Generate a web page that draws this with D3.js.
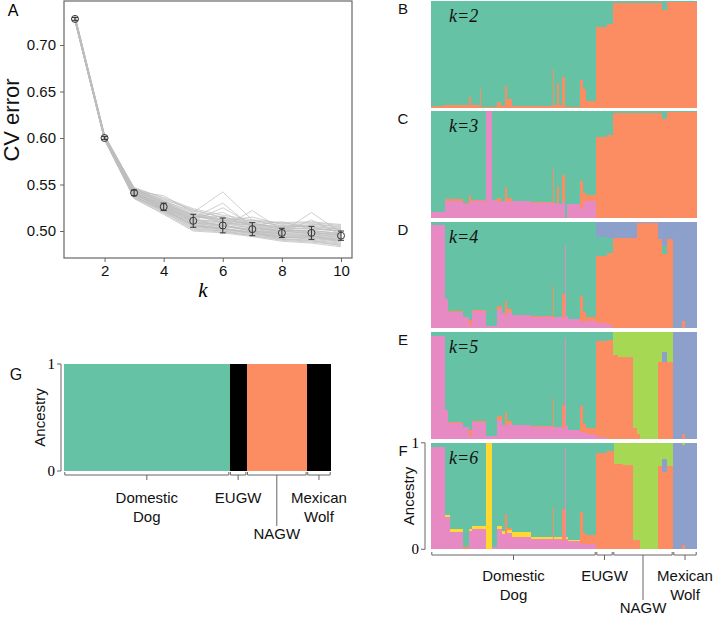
<!DOCTYPE html>
<html><head><meta charset="utf-8">
<script src="https://cdn.jsdelivr.net/npm/d3@7"></script>
<style>body{margin:0;background:#fff} svg{display:block}</style>
</head><body><svg id="c" width="714" height="618"></svg>
<script>
const SANS = "'Liberation Sans', Arial, Helvetica, sans-serif";
const SERIF = "'Liberation Serif', 'Times New Roman', serif";

// ---------- Panel A data ----------
const kValues = [1,2,3,4,5,6,7,8,9,10];
const cvMean = [0.728,0.600,0.541,0.526,0.511,0.506,0.502,0.498,0.498,0.495];
const cvErr  = [0.0015,0.0015,0.003,0.004,0.007,0.008,0.007,0.005,0.007,0.005];
const cvReps = [
 [0.728,0.600,0.541,0.526,0.511,0.506,0.502,0.498,0.498,0.495],
 [0.730,0.602,0.545,0.530,0.516,0.510,0.506,0.502,0.503,0.500],
 [0.726,0.598,0.537,0.522,0.506,0.502,0.498,0.494,0.493,0.490],
 [0.729,0.601,0.547,0.535,0.522,0.515,0.510,0.506,0.508,0.504],
 [0.727,0.599,0.535,0.519,0.501,0.499,0.495,0.490,0.488,0.485],
 [0.731,0.603,0.543,0.538,0.520,0.542,0.512,0.505,0.506,0.503],
 [0.728,0.600,0.540,0.528,0.514,0.530,0.504,0.500,0.497,0.494],
 [0.727,0.599,0.539,0.524,0.509,0.504,0.522,0.501,0.499,0.496],
 [0.729,0.601,0.542,0.527,0.512,0.508,0.503,0.499,0.520,0.498],
 [0.726,0.598,0.536,0.520,0.503,0.500,0.496,0.492,0.490,0.487],
 [0.730,0.602,0.544,0.531,0.518,0.512,0.508,0.504,0.505,0.502],
 [0.728,0.600,0.541,0.525,0.510,0.507,0.500,0.497,0.496,0.493],
 [0.727,0.599,0.538,0.523,0.507,0.503,0.499,0.495,0.494,0.491],
 [0.729,0.601,0.546,0.533,0.519,0.513,0.509,0.503,0.507,0.505],
 [0.728,0.600,0.540,0.529,0.515,0.520,0.505,0.500,0.501,0.497],
 [0.726,0.598,0.535,0.518,0.500,0.498,0.494,0.489,0.487,0.483],
 [0.731,0.603,0.546,0.532,0.521,0.511,0.515,0.507,0.504,0.499],
 [0.727,0.599,0.539,0.526,0.513,0.505,0.501,0.498,0.512,0.496],
 [0.729,0.601,0.543,0.529,0.517,0.509,0.506,0.510,0.502,0.500],
 [0.728,0.600,0.540,0.524,0.508,0.505,0.500,0.496,0.495,0.492],
 [0.730,0.602,0.544,0.534,0.523,0.514,0.511,0.508,0.509,0.506],
 [0.727,0.599,0.537,0.521,0.504,0.501,0.497,0.493,0.492,0.489],
 [0.729,0.601,0.542,0.527,0.511,0.525,0.507,0.502,0.500,0.498],
 [0.726,0.598,0.536,0.522,0.505,0.502,0.498,0.491,0.489,0.486],
 [0.729,0.601,0.540,0.523,0.506,0.503,0.497,0.494,0.491,0.488],
 [0.728,0.600,0.543,0.529,0.513,0.509,0.503,0.500,0.498,0.496],
 [0.727,0.599,0.538,0.521,0.502,0.500,0.495,0.491,0.490,0.484],
 [0.730,0.602,0.545,0.532,0.517,0.511,0.507,0.503,0.502,0.501],
 [0.728,0.600,0.541,0.526,0.510,0.506,0.501,0.497,0.497,0.493],
 [0.729,0.601,0.544,0.530,0.514,0.516,0.505,0.501,0.500,0.497],
 [0.726,0.598,0.537,0.523,0.507,0.503,0.498,0.493,0.494,0.490],
 [0.731,0.603,0.546,0.536,0.524,0.517,0.512,0.509,0.510,0.507],
 [0.727,0.599,0.539,0.525,0.509,0.506,0.500,0.496,0.495,0.491],
 [0.728,0.600,0.542,0.528,0.512,0.510,0.504,0.499,0.499,0.495],
 [0.729,0.601,0.540,0.524,0.505,0.502,0.499,0.494,0.493,0.489],
 [0.730,0.602,0.543,0.531,0.516,0.512,0.507,0.505,0.504,0.502]
];
const xTicksA = [2,4,6,8,10];
const yTicksA = [0.50,0.55,0.60,0.65,0.70];

// ---------- Structure data ----------
const clusterColors = {green:"#66c2a5", orange:"#fc8d62", pink:"#e78ac3", blue:"#8da0cb", lime:"#a6d854", yellow:"#ffd92f", black:"#000000"};
const groupNames = ["Domestic Dog","EUGW","NAGW","Mexican Wolf"];
const groupSizes = [165,17,60,24];
const groupColorsG = ["green","black","orange","black"];
const panelLetters = ["B","C","D","E","F"];
const kLabels = ["k=2","k=3","k=4","k=5","k=6"];

const orderK2 = ["orange","green"];
const runsK2 = [
 [12,0.015,0.985],[20,0.025,0.975],[6,0.02,0.98],[2,0.10,0.90],[9,0.025,0.975],
 [1,0.18,0.82],[16,0.008,0.992],[4,0.05,0.95],[4,0.01,0.99],[2,0.20,0.80],
 [5,0.08,0.92],[41,0.012,0.988],[1,0.36,0.64],[3,0.02,0.98],[2,0.23,0.77],
 [3,0.02,0.98],[3,0.29,0.71],[15,0.008,0.992],[3,0.26,0.74],[3,0.17,0.83],
 [10,0.06,0.94],[11,0.76,0.24],[6,0.78,0.22],[49,0.985,0.015],[5,0.92,0.08],
 [30,0.995,0.005]
];
const orderK3 = ["pink","orange","green"];
const runsK3 = [
 [14,0.06,0,0.94],[18,0.16,0.02,0.82],[6,0.13,0.01,0.86],[2,0.15,0.07,0.78],
 [15,0.16,0.01,0.83],[6,1.0,0,0],[5,0.17,0,0.83],[4,0.15,0.04,0.81],
 [4,0.16,0,0.84],[2,0.15,0.14,0.71],[5,0.16,0.03,0.81],[19,0.16,0,0.84],
 [22,0.14,0.01,0.85],[1,0.13,0.34,0.53],[3,0.14,0,0.86],[2,0.14,0.16,0.70],
 [3,0.13,0,0.87],[3,0.15,0.25,0.60],[2,0,0,1],[13,0.13,0,0.87],
 [3,0.08,0.27,0.65],[3,0.15,0.08,0.77],[10,0.16,0.06,0.78],[11,0,0.76,0.24],
 [6,0,0.78,0.22],[49,0,0.985,0.015],[5,0,0.93,0.07],[30,0,0.995,0.005]
];
const orderK4 = ["pink","orange","green","blue"];
const runsK4 = [
 [14,0.97,0,0.03,0],[3,0.28,0,0.72,0],[15,0.15,0.01,0.84,0],[6,0.11,0,0.89,0],
 [3,0.03,0.05,0.92,0],[14,0.16,0.01,0.83,0],[11,0.02,0,0.98,0],[5,0.18,0.03,0.79,0],
 [3,0.14,0,0.86,0],[2,0.12,0.14,0.74,0],[5,0.15,0.03,0.82,0],[19,0.13,0,0.87,0],
 [22,0.11,0.01,0.88,0],[1,0.10,0.30,0.60,0],[8,0.11,0,0.89,0],[3,0.10,0.22,0.68,0],
 [1,0.78,0,0.22,0],[2,0.12,0,0.88,0],[12,0.09,0,0.91,0],[3,0.06,0.24,0.70,0],
 [3,0.07,0.08,0.85,0],[10,0.07,0.04,0.89,0],[11,0.05,0.63,0.18,0.14],[6,0.03,0.68,0.14,0.15],
 [24,0,0.85,0,0.15],[5,0,0.99,0,0.01],[16,0,0.99,0,0.01],[4,0,0.84,0,0.16],
 [5,0,0.70,0.07,0.23],[6,0,0.84,0,0.16],[9,0,0,0,1],[3,0,0.07,0,0.93],[12,0,0,0,1]
];
const orderK5 = ["pink","orange","blue","lime","green"];
const runsK5 = [
 [14,0.97,0,0,0,0.03],[3,0.27,0,0,0,0.73],[15,0.15,0.01,0,0,0.84],[6,0.11,0,0,0,0.89],
 [3,0.03,0.05,0,0,0.92],[14,0.16,0.01,0,0,0.83],[11,0.03,0,0,0,0.97],[5,0.18,0.03,0,0,0.79],
 [3,0.13,0,0,0,0.87],[2,0.12,0.13,0,0,0.75],[5,0.14,0.03,0,0,0.83],[19,0.13,0,0,0,0.87],
 [22,0.11,0.01,0,0,0.88],[1,0.10,0.28,0,0,0.62],[8,0.11,0,0,0,0.89],[3,0.10,0.22,0,0,0.68],
 [1,0.95,0,0,0,0.05],[2,0.12,0,0,0,0.88],[12,0.08,0,0,0,0.92],[3,0.06,0.25,0,0,0.69],
 [3,0.06,0.08,0,0,0.86],[10,0.05,0.05,0,0,0.90],[11,0.02,0.90,0,0,0.08],[6,0,0.93,0,0,0.07],
 [5,0,0.79,0,0.21,0],[15,0,0.77,0,0.23,0],[4,0,0.10,0,0.90,0],[3,0,0.05,0,0.95,0],
 [18,0,0,0,1,0],[4,0,0.72,0,0.28,0],[5,0,0.72,0.10,0.18,0],[6,0,0.72,0,0.28,0],
 [9,0,0,1,0,0],[3,0,0.05,0.95,0,0],[12,0,0,1,0,0]
];
const orderK6 = ["pink","yellow","orange","blue","lime","green"];
const runsK6 = [
 [14,0.96,0,0,0,0,0.04],[5,0.30,0.02,0,0,0,0.68],[13,0.16,0.03,0,0,0,0.81],[6,0,0,0.02,0,0,0.98],
 [3,0.17,0.02,0,0,0,0.81],[14,0.19,0.03,0,0,0,0.78],[6,0,1,0,0,0,0],[5,0.02,0,0,0,0,0.98],
 [5,0.19,0.03,0,0,0,0.78],[3,0.14,0.03,0,0,0,0.83],[2,0.15,0,0.18,0,0,0.67],[5,0.15,0.03,0.02,0,0,0.80],
 [19,0.12,0.04,0,0,0,0.84],[22,0.10,0.02,0,0,0,0.88],[1,0.10,0,0.30,0,0,0.60],[8,0.10,0.02,0,0,0,0.88],
 [3,0.08,0,0.30,0,0,0.62],[1,0.95,0,0,0,0,0.05],[2,0.10,0.02,0,0,0,0.88],[12,0.08,0.01,0,0,0,0.91],
 [3,0.05,0,0.30,0,0,0.65],[3,0.05,0,0.10,0,0,0.85],[10,0.05,0,0.08,0,0,0.87],[11,0,0,0.90,0,0,0.10],
 [7,0,0,0.92,0,0,0.08],[9,0,0,0.80,0,0.20,0],[10,0,0,0.79,0,0.21,0],[7,0,0,0.09,0,0.91,0],
 [18,0,0,0,0,1,0],[4,0,0,0.78,0,0.22,0],[5,0,0,0.73,0.12,0.15,0],[6,0,0,0.78,0,0.22,0],
 [9,0,0,0,1,0,0],[3,0,0,0.04,0.94,0.02,0],[12,0,0,0,1,0,0]
];
const structPanels = [
 {runs:runsK2, order:orderK2}, {runs:runsK3, order:orderK3}, {runs:runsK4, order:orderK4},
 {runs:runsK5, order:orderK5}, {runs:runsK6, order:orderK6}
];

// ---------- Drawing ----------
const svg = d3.select("#c");
const AX = "#666";

// Panel A
(function(){
  const L=64, R=352, T=1, B=258;
  const x = d3.scaleLinear().domain([0.628,10.372]).range([L,R]);
  const y = d3.scaleLinear().domain([0.471,0.7473]).range([B,T]);
  const g = svg.append("g");
  const line = d3.line().x((d,i)=>x(kValues[i])).y(d=>y(d));
  g.selectAll("path.rep").data(cvReps).join("path").attr("class","rep")
    .attr("d", line).attr("fill","none").attr("stroke","#bdbdbd").attr("stroke-width",0.9).attr("stroke-opacity",0.8);
  const eb = g.selectAll("g.eb").data(kValues).join("g").attr("class","eb");
  eb.append("line").attr("x1",d=>x(d)).attr("x2",d=>x(d))
    .attr("y1",(d,i)=>y(cvMean[i]-cvErr[i])).attr("y2",(d,i)=>y(cvMean[i]+cvErr[i]))
    .attr("stroke","#333").attr("stroke-width",1);
  [-1,1].forEach(s=>{
    eb.append("line").attr("x1",d=>x(d)-3).attr("x2",d=>x(d)+3)
      .attr("y1",(d,i)=>y(cvMean[i]+s*cvErr[i])).attr("y2",(d,i)=>y(cvMean[i]+s*cvErr[i]))
      .attr("stroke","#333").attr("stroke-width",1);
  });
  eb.append("circle").attr("cx",d=>x(d)).attr("cy",(d,i)=>y(cvMean[i])).attr("r",3.5)
    .attr("fill","none").attr("stroke","#333").attr("stroke-width",1);
  g.append("rect").attr("x",L).attr("y",T).attr("width",R-L).attr("height",B-T)
    .attr("fill","none").attr("stroke",AX).attr("stroke-width",1.2);
  const xa = g.append("g").attr("transform",`translate(0,${B})`)
    .call(d3.axisBottom(x).tickValues(xTicksA).tickSize(4).tickPadding(3).tickFormat(d3.format("d")));
  xa.select(".domain").remove();
  xa.selectAll("line").attr("stroke",AX);
  xa.selectAll("text").attr("font-family",SANS).attr("font-size",15).attr("fill","#111");
  const ya = g.append("g").attr("transform",`translate(${L},0)`)
    .call(d3.axisLeft(y).tickValues(yTicksA).tickSize(4).tickPadding(4).tickFormat(d3.format(".2f")));
  ya.select(".domain").remove();
  ya.selectAll("line").attr("stroke",AX);
  ya.selectAll("text").attr("font-family",SANS).attr("font-size",15).attr("fill","#111");
  g.append("text").attr("x",203).attr("y",297).attr("text-anchor","middle")
    .attr("font-family",SERIF).attr("font-style","italic").attr("font-size",21).text("k");
  g.append("text").attr("transform","translate(19,120) rotate(-90)").attr("text-anchor","middle")
    .attr("font-family",SANS).attr("font-size",22).attr("fill","#111").text("CV error");
  g.append("text").attr("x",13).attr("y",16).attr("text-anchor","middle")
    .attr("font-family",SANS).attr("font-size",16).text("A");
})();

function drawRuns(g, runs, order, x, y){
  let start = 0;
  const cells = [];
  runs.forEach(r=>{
    let cum = 0;
    order.forEach((c,j)=>{
      const v = r[j+1];
      if (v>0) cells.push({s:start, n:r[0], lo:cum, hi:cum+v, c});
      cum += v;
    });
    start += r[0];
  });
  g.selectAll("rect.cell").data(cells).join("rect").attr("class","cell")
    .attr("x",d=>x(d.s)).attr("width",d=>x(d.s+d.n)-x(d.s)+0.3)
    .attr("y",d=>y(d.hi)).attr("height",d=>Math.max(0,y(d.lo)-y(d.hi)))
    .attr("fill",d=>clusterColors[d.c]).attr("shape-rendering","crispEdges");
}

function drawGroupAxis(g, x, yb, labelBase, nagwEnd){
  let start = 0;
  groupSizes.forEach((n,i)=>{
    const x0 = x(start)+0.8, x1 = x(start+n)-0.8;
    g.append("path").attr("d",`M${x0},${yb-3}V${yb}H${x1}V${yb-3}`)
      .attr("fill","none").attr("stroke",AX).attr("stroke-width",1);
    const cx = x(start+n/2);
    const isN = groupNames[i]==="NAGW";
    g.append("line").attr("x1",cx).attr("x2",cx).attr("y1",yb).attr("y2",isN?nagwEnd:yb+5)
      .attr("stroke",AX).attr("stroke-width",1);
    const parts = groupNames[i].split(" ");
    parts.forEach((p,j)=>{
      g.append("text").attr("x",cx).attr("y",isN? nagwEnd+13 : labelBase + j*19)
        .attr("text-anchor","middle").attr("font-family",SANS).attr("font-size",15).attr("fill","#111").text(p);
    });
    start += n;
  });
}

function drawAncAxis(g, ax, yTop, yBot, labelX){
  g.append("path").attr("d",`M${ax-4},${yTop}H${ax}V${yBot}H${ax-4}`)
    .attr("fill","none").attr("stroke",AX).attr("stroke-width",1);
  g.append("text").attr("x",ax-6).attr("y",yTop+5).attr("text-anchor","end")
    .attr("font-family",SERIF).attr("font-size",15).text("1");
  g.append("text").attr("x",ax-6).attr("y",yBot+5).attr("text-anchor","end")
    .attr("font-family",SERIF).attr("font-size",15).text("0");
  g.append("text").attr("transform",`translate(${labelX},${(yTop+yBot)/2}) rotate(-90)`)
    .attr("text-anchor","middle").attr("font-family",SANS).attr("font-size",15).attr("fill","#111").text("Ancestry");
}

// Panels B-F
(function(){
  const total = d3.sum(groupSizes);
  const x = d3.scaleLinear().domain([0,total]).range([431,697]);
  const H = 106.5;
  structPanels.forEach((p,i)=>{
    const top = 1 + i*110.45;
    const y = d3.scaleLinear().domain([0,1]).range([top+H, top]);
    const g = svg.append("g");
    drawRuns(g, p.runs, p.order, x, y);
    g.append("text").attr("x",449).attr("y",top+21).attr("font-family",SERIF)
      .attr("font-style","italic").attr("font-size",18).attr("fill","#111").text(kLabels[i]);
    g.append("text").attr("x",403).attr("y",top+13).attr("text-anchor","middle")
      .attr("font-family",SANS).attr("font-size",15).attr("fill","#111").text(panelLetters[i]);
    if (i===4){
      drawAncAxis(g, 425, top, top+H, 414);
      drawGroupAxis(g, x, 555, 581, 600);
    }
  });
})();

// Panel G
(function(){
  const total = d3.sum(groupSizes);
  const x = d3.scaleLinear().domain([0,total]).range([64,331]);
  const y = d3.scaleLinear().domain([0,1]).range([471,364]);
  const g = svg.append("g");
  let start = 0;
  const blocks = groupSizes.map((n,i)=>{ const b={s:start,n,c:groupColorsG[i]}; start+=n; return b; });
  g.selectAll("rect").data(blocks).join("rect")
    .attr("x",d=>x(d.s)).attr("width",d=>x(d.s+d.n)-x(d.s)+0.3)
    .attr("y",y(1)).attr("height",y(0)-y(1)).attr("fill",d=>clusterColors[d.c])
    .attr("shape-rendering","crispEdges");
  drawAncAxis(g, 61, 364, 471, 45);
  drawGroupAxis(g, x, 475, 503, 526);
  g.append("text").attr("x",16).attr("y",380).attr("text-anchor","middle")
    .attr("font-family",SANS).attr("font-size",16).attr("fill","#111").text("G");
})();
</script></body></html>
